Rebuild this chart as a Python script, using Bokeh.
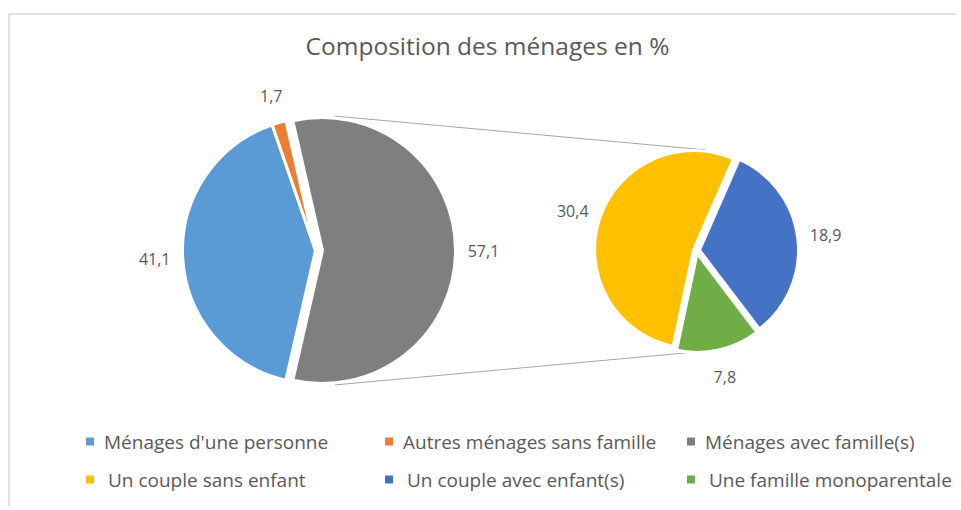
import math
from bokeh.plotting import figure
from bokeh.models import Range1d, ColumnDataSource
from bokeh.core.properties import value
from bokeh.embed import file_html
from bokeh.resources import INLINE

# ---------------- data ----------------
title_text = "Composition des ménages en %"
main_categories = ["Ménages d'une personne", "Autres ménages sans famille", "Ménages avec famille(s)"]
main_values = [41.1, 1.7, 57.1]
main_colors = ["#5B9BD5", "#ED7D31", "#7F7F7F"]
sub_categories = ["Un couple sans enfant", "Un couple avec enfant(s)", "Une famille monoparentale"]
sub_values = [30.4, 18.9, 7.8]
sub_colors = ["#FFC000", "#4472C4", "#70AD47"]

# ---------------- layout ----------------
W, H = 956, 506
TXT = "#595959"
FONT = value("Open Sans")

def Y(screen_y):
    return H - screen_y

p = figure(width=W, height=H, x_range=Range1d(0, W), y_range=Range1d(0, H),
           output_backend="svg", toolbar_location=None, min_border=0,
           x_axis_location=None, y_axis_location=None)
p.grid.visible = False
p.outline_line_color = None
p.background_fill_color = "white"
p.border_fill_color = "white"

# chart border (top and left edges)
p.segment(x0=[8, 8.5], y0=[Y(13.5), 0], x1=[W, 8.5], y1=[Y(13.5), Y(13.5)],
          line_color="#d9d9d9", line_width=1.5)

# title
p.text(x=[487], y=[Y(45)], text=[title_text], text_font=FONT,
       text_font_size="24.5px", text_color=TXT, text_align="center",
       text_baseline="middle")

# --- main pie ---
c1x, c1y, r1 = 315.0, Y(250), 133.0
explode_main = [0, 0, 7]
tot = sum(main_values)
ang = [v / tot * 2 * math.pi for v in main_values]
g = ang[2]
starts = [g / 2 + ang[1], g / 2, -g / 2]
ends = [2 * math.pi - g / 2, g / 2 + ang[1], g / 2]
mx, my, mids = [], [], []
for s, e, ex in zip(starts, ends, explode_main):
    m = (s + e) / 2
    mids.append(m)
    mx.append(c1x + ex * math.cos(m))
    my.append(c1y + ex * math.sin(m))

# --- second pie ---
c2x, c2y, r2 = 696.0, Y(250), 99.0
explode_sub = [3, 3, 3]
stot = sum(sub_values)
sang = [v / stot * 2 * math.pi for v in sub_values]
start2 = math.radians(258)
s_starts, s_ends = [], []
cur = start2
for a in sang:  # clockwise
    s_ends.append(cur)
    s_starts.append(cur - a)
    cur -= a
sx, sy, smids = [], [], []
for s, e, ex in zip(s_starts, s_ends, explode_sub):
    m = (s + e) / 2
    smids.append(m)
    sx.append(c2x + ex * math.cos(m))
    sy.append(c2y + ex * math.sin(m))

# connector lines (external tangents)
gx, gy = mx[2], my[2]
R1, R2 = r1 + 2, r2 + 2
d = c2x - gx
alpha = math.acos((R1 - R2) / d)
lx0, ly0, lx1, ly1 = [], [], [], []
for a in (alpha, -alpha):
    lx0.append(gx + R1 * math.cos(a)); ly0.append(gy + R1 * math.sin(a))
    lx1.append(c2x + R2 * math.cos(a)); ly1.append(c2y + R2 * math.sin(a))
p.segment(x0=lx0, y0=ly0, x1=lx1, y1=ly1, line_color="#a6a6a6", line_width=1)

p.wedge(x="x", y="y", radius=r1, start_angle="s", end_angle="e", fill_color="c",
        line_color="white", line_width=3,
        source=ColumnDataSource(dict(x=mx, y=my, s=starts, e=ends, c=main_colors)))
p.wedge(x="x", y="y", radius=r2, start_angle="s", end_angle="e", fill_color="c",
        line_color="white", line_width=3,
        source=ColumnDataSource(dict(x=sx, y=sy, s=s_starts, e=s_ends, c=sub_colors)))

def fmt(v):
    return f"{v:.1f}".replace(".", ",")

off = 28
lab_x = [x + (r1 + off) * math.cos(m) for x, m in zip(mx, mids)] + \
        [x + (r2 + off) * math.cos(m) for x, m in zip(sx, smids)]
lab_y = [y + (r1 + off) * math.sin(m) for y, m in zip(my, mids)] + \
        [y + (r2 + off) * math.sin(m) for y, m in zip(sy, smids)]
lab_t = [fmt(v) for v in main_values + sub_values]
p.text(x=lab_x, y=lab_y, text=lab_t, text_font=FONT, text_font_size="16px",
       text_color=TXT, text_align="center", text_baseline="middle")

# legend (two rows of three)
col_x = [89.5, 388.5, 690.5]
row_y = [Y(441), Y(479)]
text_off = [14, 18]
leg_sx, leg_sy, leg_c, leg_tx, leg_ty, leg_t = [], [], [], [], [], []
for r, (cats, cols) in enumerate([(main_categories, main_colors), (sub_categories, sub_colors)]):
    for i, (cat, col) in enumerate(zip(cats, cols)):
        leg_sx.append(col_x[i]); leg_sy.append(row_y[r]); leg_c.append(col)
        leg_tx.append(col_x[i] + text_off[r]); leg_ty.append(row_y[r]); leg_t.append(cat)
p.scatter(x=leg_sx, y=leg_sy, marker="square", size=8, fill_color=leg_c, line_color=None)
p.text(x=leg_tx, y=leg_ty, text=leg_t, text_font=FONT, text_font_size="19px",
       text_color=TXT, text_align="left", text_baseline="middle")

open("out.html", "w").write(file_html(p, INLINE))
